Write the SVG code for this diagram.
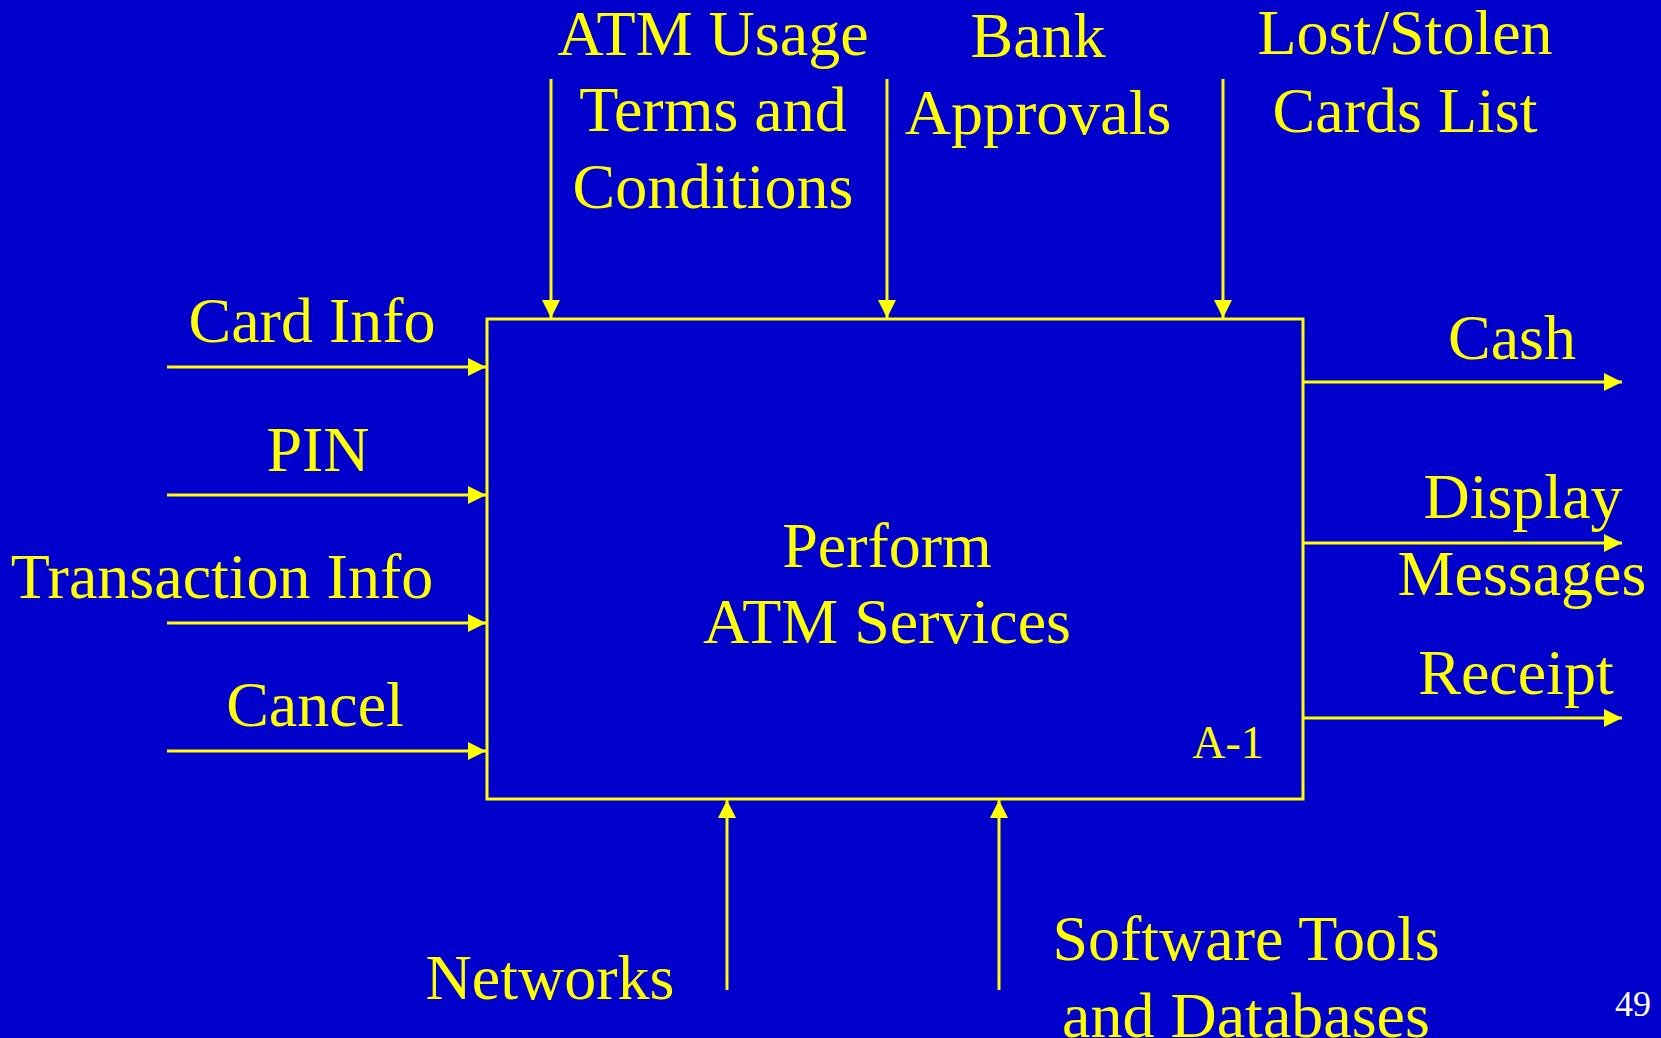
<svg xmlns="http://www.w3.org/2000/svg" width="1661" height="1038" viewBox="0 0 1661 1038">
  <style>
    .t { font-family: "Liberation Serif", "Times New Roman", serif; font-size: 64px; fill: #FFFF00; text-anchor: middle; }
    .small { font-size: 46px; }
    .pg { font-family: "Liberation Serif", "Times New Roman", serif; font-size: 36px; fill: #FFFFFF; text-anchor: end; }
    .c { stroke: #FFFF00; stroke-width: 3; fill: none; marker-end: url(#ah); }
    .box { stroke: #FFFF00; stroke-width: 3; fill: none; }
  </style>
  <defs>
    <marker id="ah" markerUnits="userSpaceOnUse" markerWidth="18" markerHeight="18" viewBox="0 0 16 16" refX="16" refY="8" orient="auto">
      <path d="M0,0 L16,8 L0,16 Z" fill="#FFFF00"/>
    </marker>
  </defs>
  <rect x="0" y="0" width="1661" height="1038" fill="#0000CC"/>

  <g id="connectors">
    <line class="c" x1="551" y1="79" x2="551" y2="318"/>
    <line class="c" x1="887" y1="79" x2="887" y2="318"/>
    <line class="c" x1="1223" y1="79" x2="1223" y2="318"/>
    <line class="c" x1="167" y1="367" x2="486" y2="367"/>
    <line class="c" x1="167" y1="495" x2="486" y2="495"/>
    <line class="c" x1="167" y1="623" x2="486" y2="623"/>
    <line class="c" x1="167" y1="751" x2="486" y2="751"/>
    <line class="c" x1="1303" y1="382" x2="1622" y2="382"/>
    <line class="c" x1="1303" y1="543" x2="1622" y2="543"/>
    <line class="c" x1="1303" y1="718" x2="1622" y2="718"/>
    <line class="c" x1="727" y1="990" x2="727" y2="800"/>
    <line class="c" x1="999" y1="990" x2="999" y2="800"/>
  </g>

  <g id="process">
    <rect class="box" x="487" y="319" width="816" height="480"/>
    <text class="t" x="887" y="567">Perform</text>
    <text class="t" x="887" y="643">ATM Services</text>
    <text class="t small" x="1228" y="758">A-1</text>
  </g>

  <g id="ctrl-terms">
    <text class="t" x="713" y="55">ATM Usage</text>
    <text class="t" x="713" y="131">Terms and</text>
    <text class="t" x="713" y="208">Conditions</text>
  </g>
  <g id="ctrl-bank">
    <text class="t" x="1038" y="57">Bank</text>
    <text class="t" x="1038" y="134">Approvals</text>
  </g>
  <g id="ctrl-lost">
    <text class="t" x="1405" y="54">Lost/Stolen</text>
    <text class="t" x="1405" y="132">Cards List</text>
  </g>

  <g id="in-card"><text class="t" x="312" y="342">Card Info</text></g>
  <g id="in-pin"><text class="t" x="318" y="471">PIN</text></g>
  <g id="in-trans"><text class="t" x="222" y="598">Transaction Info</text></g>
  <g id="in-cancel"><text class="t" x="315" y="726">Cancel</text></g>

  <g id="out-cash"><text class="t" x="1512" y="359">Cash</text></g>
  <g id="out-display">
    <text class="t" x="1523" y="518">Display</text>
    <text class="t" x="1522" y="595">Messages</text>
  </g>
  <g id="out-receipt"><text class="t" x="1516" y="694">Receipt</text></g>

  <g id="mech-networks"><text class="t" x="550" y="999">Networks</text></g>
  <g id="mech-software">
    <text class="t" x="1246" y="960">Software Tools</text>
    <text class="t" x="1246" y="1037">and Databases</text>
  </g>

  <text class="pg" x="1651" y="1016">49</text>
</svg>
